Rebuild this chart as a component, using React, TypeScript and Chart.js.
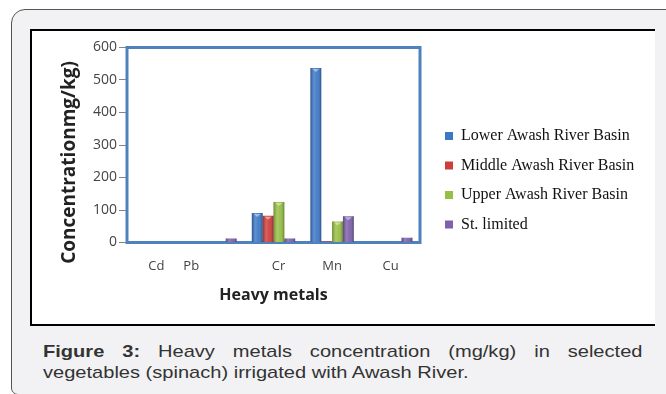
import React, { useEffect, useRef } from "react";
import { Chart, registerables } from "chart.js";

Chart.register(...registerables);

const categories = ["Cd", "Pb", "Cr", "Mn", "Cu"];
const lowerAwash = [0, 0, 91, 537, 1];
const middleAwash = [0, 0, 82, 3, 1];
const upperAwash = [0, 0, 125, 65, 0];
const stLimited = [0, 12, 12, 81, 15];
const seriesNames = [
  "Lower Awash River Basin",
  "Middle Awash River Basin",
  "Upper Awash River Basin",
  "St. limited",
];
const seriesColors = ["#3c78c6", "#d03e3b", "#97bf45", "#7e60ab"];
const yMin = 0;
const yMax = 600;
const yStep = 100;
const yTitle = "Concentrationmg/kg)";
const xTitle = "Heavy metals";

const plotBorder = {
  id: "plotBorder",
  beforeDatasetsDraw(chart: any) {
    const { ctx, chartArea } = chart;
    ctx.save();
    ctx.strokeStyle = "#4f81bd";
    ctx.lineWidth = 3;
    ctx.strokeRect(chartArea.left, chartArea.top, chartArea.right - chartArea.left, chartArea.bottom - chartArea.top);
    ctx.restore();
  },
};

const yTitlePlugin = {
  id: "yTitlePlugin",
  afterDraw(chart: any) {
    const ctx = chart.ctx;
    ctx.save();
    ctx.translate(38, 131.5);
    ctx.rotate(-Math.PI / 2);
    ctx.font = "bold 19px 'Open Sans', sans-serif";
    ctx.fillStyle = "#222";
    ctx.textAlign = "center";
    ctx.textBaseline = "middle";
    ctx.fillText(yTitle, 0, 0, 215);
    ctx.restore();
  },
};

const barShade = {
  id: "barShade",
  afterDatasetsDraw(chart: any) {
    const ctx = chart.ctx;
    ctx.save();
    chart.data.datasets.forEach((_: any, di: number) => {
      const meta = chart.getDatasetMeta(di);
      meta.data.forEach((el: any) => {
        const { x, y, base, width } = el.getProps(["x", "y", "base", "width"], true);
        const h = base - y;
        if (h < 1.5) return;
        const left = x - width / 2;
        const g = ctx.createLinearGradient(left, 0, left + width, 0);
        g.addColorStop(0, "rgba(0,0,0,0.28)");
        g.addColorStop(0.35, "rgba(255,255,255,0.18)");
        g.addColorStop(0.6, "rgba(255,255,255,0.05)");
        g.addColorStop(1, "rgba(0,0,0,0.32)");
        ctx.fillStyle = g;
        ctx.fillRect(left, y, width, h);
        if (h > 5) {
          ctx.fillStyle = "rgba(255,255,255,0.45)";
          ctx.beginPath();
          ctx.moveTo(left + 2, y + 1);
          ctx.lineTo(left + width - 2, y + 1);
          ctx.lineTo(x, y + 4);
          ctx.closePath();
          ctx.fill();
        }
      });
    });
    ctx.restore();
  },
};

function ChartBox() {
  const ref = useRef<HTMLCanvasElement>(null);
  useEffect(() => {
    const values = [lowerAwash, middleAwash, upperAwash, stLimited];
    const chart = new Chart(ref.current as HTMLCanvasElement, {
      type: "bar",
      data: {
        labels: categories,
        datasets: values.map((v, i) => ({
          label: seriesNames[i],
          data: v,
          backgroundColor: seriesColors[i],
          borderWidth: 0,
          categoryPercentage: 0.74,
          barPercentage: 1,
        })),
      },
      options: {
        animation: false,
        responsive: false,
        maintainAspectRatio: false,
        layout: { padding: { left: 27, top: 16.5, right: 18.5, bottom: 16 } },
        plugins: {
          tooltip: { enabled: false },
          legend: {
            position: "right",
            maxWidth: 205,
            labels: {
              font: { family: "'Liberation Serif', 'DejaVu Serif', serif", size: 16 },
              color: "#111",
              boxWidth: 8,
              boxHeight: 8,
              padding: 13.5,
            },
          },
        },
        scales: {
          x: {
            grid: { display: false, drawTicks: false },
            border: { display: false },
            ticks: {
              color: "#444",
              padding: 16,
              autoSkip: false,
              maxRotation: 0,
              minRotation: 0,
              font: { family: "'Open Sans', sans-serif", size: 13 },
              callback: function (this: any, val: any) {
                const lab = this.getLabelForValue(val);
                if (lab === "Pb") return lab + " ".repeat(14);
                if (lab === "Cr") return "   " + lab;
                return lab;
              },
            },
            title: {
              display: true,
              text: xTitle,
              color: "#222",
              font: { family: "'Open Sans', sans-serif", size: 16, weight: "bold" },
              padding: { top: 0, bottom: 8 },
            },
            afterFit: (s: any) => {
              s.height = 70.5;
            },
          },
          y: {
            min: yMin,
            max: yMax,
            ticks: {
              stepSize: yStep,
              color: "#444",
              padding: 2,
              font: { family: "'Open Sans', sans-serif", size: 14 },
            },
            grid: { drawOnChartArea: false, drawTicks: true, tickLength: 8, color: "#868686" },
            border: { display: false },
            afterFit: (s: any) => {
              s.width = 68;
            },
          },
          gap: {
            position: "right",
            display: true,
            grid: { display: false },
            border: { display: false },
            ticks: { display: false },
            afterFit: (s: any) => {
              s.width = 11.5;
            },
          },
        },
      } as any,
      plugins: [plotBorder, barShade, yTitlePlugin],
    });
    return () => chart.destroy();
  }, []);
  return (
    <canvas
      ref={ref}
      width={623}
      height={298}
      style={{ position: "absolute", left: 32, top: 31, width: 623, height: 298 }}
    />
  );
}

export default function App() {
  return (
    <div
      style={{
        position: "fixed",
        left: 0,
        top: 0,
        width: 666,
        height: 394,
        background: "#ffffff",
        overflow: "hidden",
      }}
    >
      <div
        style={{
          position: "absolute",
          left: 10.5,
          top: 9,
          width: 680,
          height: 386,
          background: "#f2f2f4",
          border: "1px solid #555",
          borderTopLeftRadius: 14,
          borderBottomLeftRadius: 7,
          boxSizing: "border-box",
        }}
      />
      <div
        style={{
          position: "absolute",
          left: 30,
          top: 29,
          width: 625,
          height: 297,
          background: "#ffffff",
          borderTop: "2px solid #000",
          borderLeft: "2px solid #000",
          borderBottom: "2px solid #000",
          boxSizing: "border-box",
        }}
      />
      <ChartBox />
      <div
        style={{
          position: "absolute",
          left: 43,
          top: 341,
          width: 508,
          fontFamily: "'Liberation Sans', Arial, sans-serif",
          fontSize: 17,
          lineHeight: "21px",
          color: "#333",
          textAlign: "justify",
          transform: "scaleX(1.18)",
          transformOrigin: "0 0",
        }}
      >
        <b>Figure 3:</b> Heavy metals concentration (mg/kg) in selected vegetables (spinach) irrigated with Awash River.
      </div>
    </div>
  );
}
